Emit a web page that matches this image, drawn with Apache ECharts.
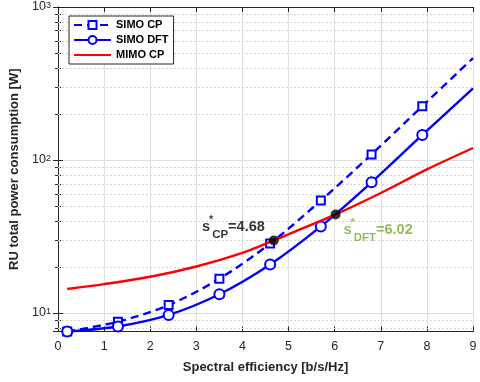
<!DOCTYPE html>
<html>
<head>
<meta charset="utf-8">
<script src="https://cdn.jsdelivr.net/npm/echarts@6/dist/echarts.min.js"></script>
<style>html,body{margin:0;padding:0;background:#fff}#c{width:480px;height:382px}</style>
</head>
<body>
<div id="c"></div>
<script>
// ---- data ----
var simoX   = [0.2, 1.3, 2.4, 3.5, 4.6, 5.7, 6.8, 7.9, 9];
var simoCP  = [7.6, 8.8, 11.3, 16.8, 28.5, 54.4, 109, 225, 464];
var simoDFT = [7.6, 8.2, 9.75, 13.3, 20.8, 36.9, 71.6, 146, 294];
var mimoX   = [0.2, 1, 2, 3, 4, 4.68, 5, 6.02, 7, 8, 9];
var mimoCP  = [14.4, 15.5, 17.3, 20.2, 24.8, 29.9, 32.8, 44.2, 61, 87, 120];
var crossX  = [4.68, 6.02];
var crossY  = [29.9, 44.2];
var xTicks  = [0, 1, 2, 3, 4, 5, 6, 7, 8, 9];
var minorY  = [8, 9, 20, 30, 40, 50, 60, 70, 80, 90, 200, 300, 400, 500, 600, 700, 800, 900];
var seriesNames = ['SIMO CP', 'SIMO DFT', 'MIMO CP'];

var FONT = 'Liberation Sans';
var AX = '#262626';

function pairs(xs, ys, lastNoSymbol) {
  return xs.map(function (x, i) {
    var item = { value: [x, ys[i]] };
    if (lastNoSymbol && i === xs.length - 1) item.symbol = 'none';
    return item;
  });
}

var chart = echarts.init(document.getElementById('c'), null, { renderer: 'canvas' });

var yBase = {
  type: 'log', min: 7.6, max: 1000, logBase: 10,
  axisLine: { show: true, lineStyle: { color: AX, width: 1 } },
  axisTick: { show: true, inside: true, length: 5, lineStyle: { color: AX } },
  minorTick: { show: true, splitNumber: 9, length: 3, lineStyle: { color: AX } }
};

function annot(color) {
  return {
    s: { fontSize: 14.5, fontWeight: 'bold', color: color, lineHeight: 26, fontFamily: FONT },
    st: { fontSize: 11, fontWeight: 'bold', color: color, lineHeight: 12, verticalAlign: 'top', width: 2, align: 'center', fontFamily: FONT },
    sub: { fontSize: 11.5, fontWeight: 'bold', color: color, lineHeight: 6, verticalAlign: 'bottom', fontFamily: FONT },
    eq: { fontSize: 14.5, fontWeight: 'bold', color: color, lineHeight: 26, fontFamily: FONT }
  };
}

var option = {
  animation: false,
  backgroundColor: '#fff',
  textStyle: { fontFamily: FONT },
  grid: { left: 58, right: 7, top: 5, bottom: 50.5, containLabel: false },
  legend: {
    orient: 'vertical', left: 69, top: 16,
    data: [{ name: seriesNames[0] }, { name: seriesNames[1] },
           { name: seriesNames[2], itemStyle: { opacity: 0 } }],
    backgroundColor: '#fff', borderColor: AX, borderWidth: 1, borderRadius: 0,
    padding: [3, 5, 3, 4], itemGap: 3, itemWidth: 37, itemHeight: 10,
    textStyle: { fontFamily: FONT, fontWeight: 'bold', fontSize: 11, color: '#000', lineHeight: 12 }
  },
  xAxis: [{
    type: 'value', min: 0, max: 9, interval: 1, position: 'bottom',
    name: 'Spectral efficiency [b/s/Hz]', nameLocation: 'middle', nameGap: 29,
    nameTextStyle: { fontFamily: FONT, fontWeight: 'bold', fontSize: 13, color: AX },
    axisLine: { show: true, onZero: false, lineStyle: { color: AX, width: 1 } },
    axisTick: { show: true, inside: true, length: 5, lineStyle: { color: AX } },
    axisLabel: { fontFamily: FONT, fontSize: 12.5, color: AX, margin: 9,
      formatter: function (v) { return xTicks.indexOf(v) >= 0 ? String(v) : ''; } },
    splitLine: { show: true, lineStyle: { color: '#dedede', width: 1 } }
  }, {
    type: 'value', min: 0, max: 9, interval: 1, position: 'top',
    axisLine: { show: true, onZero: false, lineStyle: { color: AX, width: 1 } },
    axisTick: { show: true, inside: true, length: 5, lineStyle: { color: AX } },
    axisLabel: { show: false }, splitLine: { show: false }
  }],
  yAxis: [Object.assign({}, yBase, {
    position: 'left',
    name: 'RU total power consumption [W]', nameLocation: 'middle', nameGap: 25,
    nameTextStyle: { fontFamily: FONT, fontWeight: 'bold', fontSize: 13, color: AX },
    axisLabel: {
      margin: 7, color: AX, fontFamily: FONT, lineHeight: 16,
      formatter: function (v) {
        var e = Math.round(Math.log10(v));
        if (Math.abs(Math.pow(10, e) - v) > 1e-6 * v) return '';
        return '{b|10}{s|' + e + '}';
      },
      rich: {
        b: { fontSize: 12.5, lineHeight: 12, verticalAlign: 'bottom', color: AX, fontFamily: FONT },
        s: { fontSize: 9, lineHeight: 12, verticalAlign: 'top', color: AX, fontFamily: FONT }
      }
    },
    splitLine: { show: true, lineStyle: { color: '#dedede', width: 1 } },
    minorSplitLine: { show: false }
  }), Object.assign({}, yBase, {
    position: 'right',
    axisLabel: { show: false }, splitLine: { show: false }
  })],
  series: [{
    name: 'SIMO CP', type: 'line', xAxisIndex: 0, yAxisIndex: 0,
    data: pairs(simoX, simoCP, true), smooth: 0.3,
    symbol: 'emptyRect', symbolSize: 8, showAllSymbol: true,
    lineStyle: { color: '#0000ff', width: 2.4, type: [8, 5] },
    itemStyle: { color: '#0000ff', borderWidth: 2 }, z: 3
  }, {
    name: 'SIMO DFT', type: 'line', xAxisIndex: 0, yAxisIndex: 0,
    data: pairs(simoX, simoDFT, true), smooth: 0.3,
    symbol: 'emptyCircle', symbolSize: 10, showAllSymbol: true,
    lineStyle: { color: '#0000ff', width: 2.4 },
    itemStyle: { color: '#0000ff', borderWidth: 2 }, z: 3
  }, {
    name: 'MIMO CP', type: 'line', xAxisIndex: 0, yAxisIndex: 0,
    data: pairs(mimoX, mimoCP, false), smooth: 0.3, symbol: 'none',
    lineStyle: { color: '#ff0000', width: 2.4 },
    itemStyle: { color: '#ff0000' }, z: 4,
    markLine: {
      silent: true, symbol: 'none', animation: false, z: 1,
      label: { show: false }, emphasis: { disabled: true },
      lineStyle: { color: '#d4d4d4', width: 1, type: [2, 2] },
      data: minorY.map(function (v) { return { yAxis: v }; })
    }
  }, {
    name: 'crossings', type: 'scatter', xAxisIndex: 0, yAxisIndex: 0, z: 6,
    symbol: 'circle', symbolSize: 10, itemStyle: { color: '#000' },
    data: [{
      value: [crossX[0], crossY[0]],
      label: {
        show: true, position: 'left', distance: 4, offset: [0, -13], color: '#000',
        textBorderWidth: 0,
        formatter: '{s|s}{st|*}{sub|CP}{eq|=' + crossX[0].toFixed(2) + '}',
        rich: annot('#000000')
      }
    }, {
      value: [crossX[1], crossY[1]],
      label: {
        show: true, position: 'right', distance: 3, offset: [0, 16], color: '#77ac30',
        textBorderWidth: 0,
        formatter: '{s|s}{st|*}{sub|DFT}{eq|=' + crossX[1].toFixed(2) + '}',
        rich: annot('#77ac30')
      }
    }]
  }]
};
chart.setOption(option);
</script>
</body>
</html>
